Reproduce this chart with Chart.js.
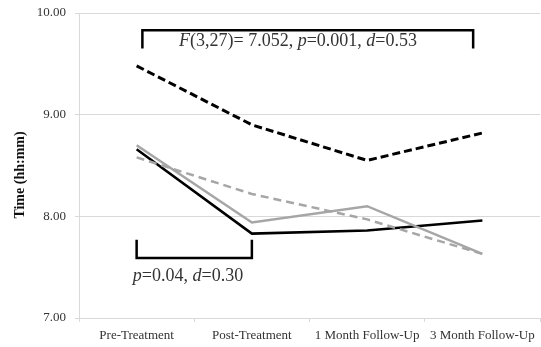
<!DOCTYPE html>
<html>
<head>
<meta charset="utf-8">
<script src="https://cdn.jsdelivr.net/npm/chart.js@4.4.1/dist/chart.umd.min.js"></script>
<style>
  html, body { margin: 0; padding: 0; background: #fff; }
  #wrap { width: 541px; height: 347px; position: relative; }
</style>
</head>
<body>
<div id="wrap"><canvas id="chart"></canvas></div>
<script>
// ---- data ----
const categories = ["Pre-Treatment", "Post-Treatment", "1 Month Follow-Up", "3 Month Follow-Up"];
const blackDashed = [9.48, 8.90, 8.55, 8.82];
const blackSolid  = [8.66, 7.83, 7.86, 7.96];
const graySolid   = [8.70, 7.94, 8.10, 7.63];
const grayDashed  = [8.58, 8.22, 7.97, 7.63];
const yTicks = [7, 8, 9, 10];

// annotation brackets, in axis units: [xFrom, xTo, yBar, yLeg]
const topBracket = [0.05, 2.92, 9.83, 9.65];
const lowBracket = [0.0, 1.0, 7.59, 7.77];
const topText = [["F", true], ["(3,27)= 7.052, ", false], ["p", true], ["=0.001, ", false], ["d", true], ["=0.53", false]];
const lowText = [["p", true], ["=0.04, ", false], ["d", true], ["=0.30", false]];

const SERIF = "'Liberation Serif', 'Times New Roman', serif";
const GRAY = "#a6a6a6";
const GRID = "#d9d9d9";
const INK = "#333";

function runsText(ctx, runs, cx, cy, size) {
  let total = 0;
  const widths = runs.map(([t, it]) => {
    ctx.font = (it ? "italic " : "") + size + "px " + SERIF;
    const w = ctx.measureText(t).width; total += w; return w;
  });
  let x = cx - total / 2;
  ctx.textBaseline = "middle";
  ctx.textAlign = "left";
  ctx.fillStyle = INK;
  runs.forEach(([t, it], i) => {
    ctx.font = (it ? "italic " : "") + size + "px " + SERIF;
    ctx.fillText(t, x, cy);
    x += widths[i];
  });
}

const annotate = {
  id: "annotate",
  afterDatasetsDraw(chart) {
    const { ctx, scales: { x, y } } = chart;
    ctx.save();
    ctx.strokeStyle = "#000";
    ctx.lineWidth = 2.5;
    [topBracket, lowBracket].forEach(([a, b, bar, leg]) => {
      ctx.beginPath();
      ctx.moveTo(x.getPixelForValue(a), y.getPixelForValue(leg));
      ctx.lineTo(x.getPixelForValue(a), y.getPixelForValue(bar));
      ctx.lineTo(x.getPixelForValue(b), y.getPixelForValue(bar));
      ctx.lineTo(x.getPixelForValue(b), y.getPixelForValue(leg));
      ctx.stroke();
    });
    runsText(ctx, topText, 298, y.getPixelForValue(9.72), 18);
    runsText(ctx, lowText, 188, y.getPixelForValue(7.41), 18);
    // y axis title
    ctx.translate(20, 175);
    ctx.rotate(-Math.PI / 2);
    ctx.font = "bold 14px " + SERIF;
    ctx.textAlign = "center";
    ctx.textBaseline = "middle";
    ctx.fillStyle = "#111";
    ctx.fillText("Time (hh:mm)", 0, 0);
    ctx.restore();
  },
};

const line = (label, data, color, width, dash) => ({
  label, data, borderColor: color, borderWidth: width, borderDash: dash,
  pointRadius: 0, tension: 0, fill: false,
});

new Chart(document.getElementById("chart"), {
  type: "line",
  data: {
    labels: categories,
    datasets: [
      line("Group 1", blackDashed, "#000", 3, [8, 4]),
      line("Group 2", grayDashed, GRAY, 2.5, [8, 5]),
      line("Group 3", graySolid, GRAY, 2.5, []),
      line("Group 4", blackSolid, "#000", 2.5, []),
    ],
  },
  options: {
    responsive: true,
    maintainAspectRatio: false,
    animation: false,
    layout: { padding: { top: 13, right: 1, bottom: 0, left: 0 } },
    plugins: { legend: { display: false }, tooltip: { enabled: false } },
    scales: {
      x: {
        offset: true,
        grid: { drawOnChartArea: false, drawTicks: true, tickLength: 4, color: GRID, offset: true },
        border: { color: GRID, width: 1 },
        ticks: { color: INK, font: { family: SERIF, size: 13 }, padding: 6, maxRotation: 0, autoSkip: false },
        afterFit(s) { s.height = 29; s.paddingLeft = 0; s.paddingRight = 0; },
      },
      y: {
        min: 7, max: 10,
        afterBuildTicks(s) { s.ticks = yTicks.map((v) => ({ value: v })); },
        grid: { color: GRID, tickLength: 4 },
        border: { color: GRID, width: 1 },
        ticks: { color: INK, font: { family: SERIF, size: 13 }, padding: 9, callback: (v) => v.toFixed(2) },
        afterFit(s) { s.width = 79; s.paddingTop = 0; s.paddingBottom = 0; },
      },
    },
  },
  plugins: [annotate],
});
</script>
</body>
</html>
